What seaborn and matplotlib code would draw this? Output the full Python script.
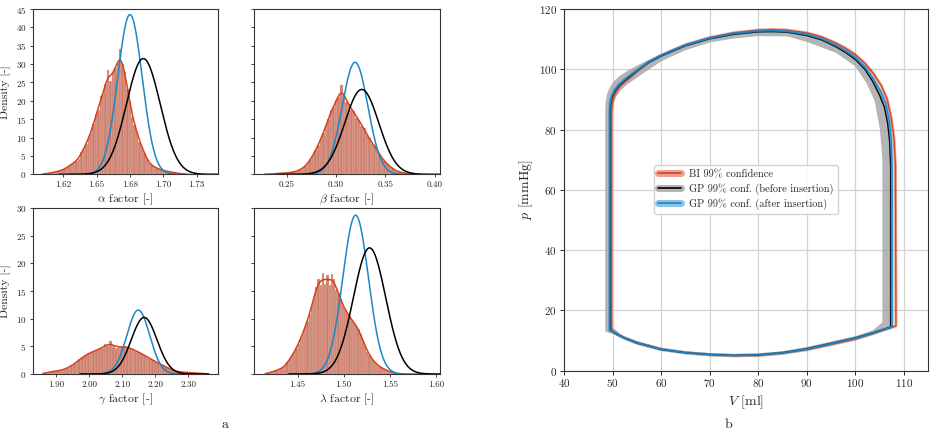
import numpy as np
import matplotlib
matplotlib.use("Agg")
import matplotlib.pyplot as plt
from matplotlib.lines import Line2D
import seaborn as sns

# ---------------- panel a: posterior histograms (density per bin) ----------------
alpha_range = (1.6088, 1.7175)
alpha_hist = [0.05, 0.15, 0.25, 0.35, 0.45, 0.6, 0.8, 0.95, 1.1, 1.4,
              1.9, 2.3, 2.8, 3.2, 3.7, 4.3, 6.0, 7.0, 8.3, 10.2,
              11.2, 13.8, 16.5, 17.6, 21.2, 22.0, 24.6, 28.5, 25.4, 27.8,
              29.0, 30.2, 34.2, 30.0, 27.8, 23.2, 19.8, 15.6, 13.4, 11.5,
              8.8, 7.5, 5.8, 4.2, 3.0, 2.5, 1.95, 1.7, 1.45, 1.2,
              1.0, 0.85, 0.75, 0.6, 0.5, 0.35, 0.25, 0.2, 0.1, 0.05]

beta_range = (0.2263, 0.3818)
beta_hist = [0.02, 0.05, 0.08, 0.12, 0.15, 0.2, 0.22, 0.28, 0.33, 0.4,
             0.5, 0.6, 0.75, 0.9, 1.3, 1.7, 2.2, 3.1, 4.1, 5.3,
             6.6, 8.0, 9.7, 11.3, 13.3, 15.0, 17.6, 18.2, 20.3, 21.0,
             24.3, 22.0, 19.6, 19.2, 17.4, 17.2, 15.3, 14.9, 13.2, 12.5,
             10.6, 9.9, 8.3, 7.9, 6.4, 5.6, 4.1, 3.6, 2.7, 2.2,
             1.6, 1.1, 0.75, 0.6, 0.45, 0.3, 0.2, 0.12, 0.06, 0.02]

gamma_range = (1.8567, 2.3667)
gamma_hist = [0.1, 0.2, 0.35, 0.45, 0.5, 0.55, 0.6, 0.75, 0.95, 1.15,
              1.45, 1.8, 2.2, 2.65, 3.0, 3.4, 3.7, 3.9, 4.1, 4.3,
              4.5, 4.65, 5.4, 5.05, 6.0, 5.1, 4.7, 4.9, 4.8, 5.1,
              4.9, 4.6, 4.5, 4.2, 4.0, 3.7, 3.35, 3.1, 2.8, 2.5,
              2.25, 2.0, 1.75, 1.5, 1.2, 0.95, 0.7, 0.55, 0.45, 0.35,
              0.3, 0.28, 0.26, 0.25, 0.2, 0.15, 0.1, 0.06, 0.03, 0.01]

lambda_range = (1.4140, 1.5579)
lambda_hist = [0.05, 0.15, 0.25, 0.35, 0.5, 0.65, 0.8, 0.95, 1.1, 1.5,
               2.1, 2.7, 3.3, 3.9, 4.7, 5.5, 6.5, 7.5, 8.5, 9.6,
               10.9, 12.4, 14.0, 15.8, 17.2, 16.0, 18.3, 16.2, 17.9, 16.0,
               18.0, 17.2, 15.2, 14.7, 13.5, 12.3, 11.6, 11.0, 10.4, 9.8,
               9.3, 8.8, 8.1, 7.2, 6.2, 5.1, 4.0, 3.4, 2.8, 2.2,
               1.85, 1.5, 1.2, 1.0, 0.8, 0.6, 0.45, 0.3, 0.2, 0.1]

# GP surrogate posteriors: (mean, std) before / after insertion
gp_before = {"alpha": (1.6850, 0.01266), "beta": (0.3261, 0.01727),
             "gamma": (2.1667, 0.0390), "lambda": (1.5280, 0.0175)}
gp_after = {"alpha": (1.6750, 0.00917), "beta": (0.3193, 0.01308),
            "gamma": (2.1490, 0.0345), "lambda": (1.5129, 0.0139)}

alpha_ticks = [1.625, 1.650, 1.675, 1.700, 1.725]
alpha_labels = ["1.62", "1.65", "1.68", "1.70", "1.73"]
beta_ticks = [0.25, 0.30, 0.35, 0.40]
gamma_ticks = [1.90, 2.00, 2.10, 2.20, 2.30]
lambda_ticks = [1.45, 1.50, 1.55, 1.60]

# ---------------- panel b: pressure-volume loops ----------------
bi_V = [49.8, 49.8, 49.9, 50.2, 50.8, 51.6, 52.6, 53.8, 55.2, 57.5, 60, 65, 70, 75, 80, 83,
        86, 90, 93, 96, 98, 100, 102, 103.8, 105.4, 106.6, 107.4, 108.0, 108.3, 108.4,
        105, 103.6, 100, 95, 90, 85, 80, 75, 70, 65, 60, 55, 52.5, 51, 50.2, 49.8]
bi_p = [13.2, 86.0, 88.5, 90.8, 92.8, 94.5, 96.0, 97.6, 99.6, 102.4, 104.6, 108.1, 110.5,
        112.1, 113.0, 113.2, 113.0, 112.1, 110.8, 108.7, 107.0, 104.9, 102, 98.5, 94.5, 90,
        84, 77, 68, 14.8, 13.0, 12.2, 10.4, 8.6, 6.9, 5.7, 5.0, 4.9, 5.2, 5.9, 7.0, 9.1,
        10.7, 11.9, 12.8, 13.2]

before_V = [49.5, 49.5, 49.6, 49.9, 50.5, 51.3, 52.3, 53.5, 55.0, 57.5, 60, 65, 70, 75, 80,
            83, 86, 90, 93, 96, 98, 100, 102, 103.6, 105, 106, 106.7, 107.1, 107.3, 107.3,
            105, 103.6, 100, 95, 90, 85, 80, 75, 70, 65, 60, 55, 52.5, 51, 50, 49.5]
before_p = [13.5, 86.0, 88.5, 90.8, 92.8, 94.5, 96.0, 97.5, 99.4, 102.3, 104.4, 107.8, 110.1,
            111.6, 112.4, 112.5, 112.3, 111.2, 109.8, 107.5, 105.6, 103.3, 100, 96, 91.5,
            87.5, 82, 76, 68, 14.4, 13.2, 12.5, 10.8, 9.0, 7.2, 5.9, 5.2, 5.0, 5.3, 5.9,
            7.0, 9.2, 10.8, 12.0, 13.0, 13.5]

after_V = [49.4, 49.4, 49.5, 49.8, 50.4, 51.2, 52.2, 53.4, 55.0, 57.5, 60, 65, 70, 75, 80,
           83, 86, 90, 93, 96, 98, 100, 102, 103.7, 105.2, 106.3, 107.0, 107.4, 107.6, 107.6,
           105, 103.6, 100, 95, 90, 85, 80, 75, 70, 65, 60, 55, 52.5, 51, 50, 49.4]
after_p = [13.4, 86.0, 88.6, 90.9, 93.0, 94.7, 96.2, 97.7, 99.6, 102.5, 104.6, 108.0, 110.3,
           111.9, 112.7, 112.8, 112.6, 111.6, 110.2, 108.0, 106.2, 104.0, 100.8, 97.0, 92.8,
           88.6, 83, 77, 68, 14.5, 13.1, 12.4, 10.7, 8.9, 7.1, 5.85, 5.15, 5.0, 5.3, 5.9,
           7.0, 9.2, 10.8, 12.0, 13.0, 13.4]

# GP (before insertion) 99% band: outer and inner edge of the loop
band_out_V = [48.5, 48.5, 48.6, 48.9, 49.5, 50.4, 51.6, 53.0, 55.0, 60, 65, 70, 75, 80, 86,
              90, 96, 100, 103.6, 105.3, 106.5, 107.1, 107.3, 107.3, 105, 100, 95, 90, 85,
              80, 75, 70, 65, 60, 55, 52, 50.3, 49, 48.5]
band_out_p = [13.0, 86.5, 89.5, 92.0, 94.2, 96.2, 97.9, 99.4, 101.2, 105.0, 108.3, 110.7,
              112.1, 112.9, 113.0, 111.6, 108.3, 104.3, 97.0, 92, 87, 80, 72, 14.5, 13.1,
              10.6, 8.8, 7.0, 5.7, 5.0, 4.8, 5.1, 5.7, 6.8, 9.0, 10.8, 12.0, 12.6, 13.0]
band_in_V = [49.9, 49.9, 50.2, 50.8, 51.7, 52.9, 55.0, 60, 65, 70, 75, 80, 86, 90, 96, 100,
             102.3, 104.0, 105.1, 105.5, 105.6, 105.6, 103.6, 100, 95, 90, 85, 80, 75, 70,
             65, 60, 55, 52, 51, 49.9]
band_in_p = [14.5, 85.5, 88.6, 91.0, 93.0, 94.8, 97.2, 102.6, 106.3, 108.9, 110.2, 111.0,
             110.9, 109.1, 105.5, 101.0, 95.5, 89.5, 80, 72, 70, 16, 13.3, 11.4, 9.6, 7.8,
             6.4, 5.7, 5.5, 5.8, 6.4, 7.6, 9.8, 11.6, 13.0, 14.5]

legend_labels = ["BI 99% confidence", "GP 99% conf. (before insertion)",
                 "GP 99% conf. (after insertion)"]

RED = "#d8401c"
BAR = "#cc7e6b"
BAR_EDGE = "#f1d9d2"
BLUE = "#1b87c9"
BLACK = "#000000"
GREY = "#a3a3a3"


def gaussian_curve(mean, std):
    x = np.linspace(mean - 5 * std, mean + 5 * std, 400)
    y = np.exp(-0.5 * ((x - mean) / std) ** 2) / (std * np.sqrt(2 * np.pi))
    return x, y


def plot_factor(ax, hist, rng, key):
    n = len(hist)
    width = (rng[1] - rng[0]) / n
    centers = rng[0] + width * (np.arange(n) + 0.5)
    sns.histplot(x=centers, weights=hist, bins=n, binrange=rng, stat="count", kde=True,
                 kde_kws=dict(bw_adjust=0.28, cut=0), color=BAR, alpha=1.0,
                 edgecolor=BAR_EDGE, linewidth=0.2, line_kws=dict(linewidth=1.1), ax=ax)
    ax.lines[-1].set_color(RED)
    x, y = gaussian_curve(*gp_after[key])
    sns.lineplot(x=x, y=y, color=BLUE, linewidth=1.1, ax=ax)
    x, y = gaussian_curve(*gp_before[key])
    sns.lineplot(x=x, y=y, color=BLACK, linewidth=1.1, ax=ax)


def main():
    sns.set_theme(style="ticks")
    plt.rcParams["font.family"] = ["cmr10", "DejaVu Serif"]
    plt.rcParams["mathtext.fontset"] = "cm"
    plt.rcParams["axes.formatter.use_mathtext"] = True
    plt.rcParams["axes.unicode_minus"] = False

    fig = plt.figure(figsize=(9.35, 4.36), dpi=100)
    ax_a = fig.add_axes([0.0348, 0.6002, 0.1987, 0.3791])
    ax_b = fig.add_axes([0.2717, 0.6002, 0.1989, 0.3791])
    ax_g = fig.add_axes([0.0348, 0.1422, 0.1987, 0.3807])
    ax_l = fig.add_axes([0.2717, 0.1422, 0.1989, 0.3807])
    ax_pv = fig.add_axes([0.6032, 0.1502, 0.3893, 0.8291])

    plot_factor(ax_a, alpha_hist, alpha_range, "alpha")
    plot_factor(ax_b, beta_hist, beta_range, "beta")
    plot_factor(ax_g, gamma_hist, gamma_range, "gamma")
    plot_factor(ax_l, lambda_hist, lambda_range, "lambda")

    ax_a.set_xlim(1.602, 1.7412)
    ax_a.set_xticks(alpha_ticks, alpha_labels)
    ax_b.set_xlim(0.2168, 0.4055)
    ax_b.set_xticks(beta_ticks, [f"{t:.2f}" for t in beta_ticks])
    ax_g.set_xlim(1.8282, 2.3918)
    ax_g.set_xticks(gamma_ticks, [f"{t:.2f}" for t in gamma_ticks])
    ax_l.set_xlim(1.4029, 1.6043)
    ax_l.set_xticks(lambda_ticks, [f"{t:.2f}" for t in lambda_ticks])

    names = [r"$\alpha$", r"$\beta$", r"$\gamma$", r"$\lambda$"]
    for ax, nm in zip([ax_a, ax_b, ax_g, ax_l], names):
        ax.set_xlabel(nm + " factor [-]", fontsize=8.5, labelpad=2)
        ax.set_ylabel("")
        ax.tick_params(labelsize=6.5, length=2.5, width=0.6, pad=2)
        for s in ax.spines.values():
            s.set_linewidth(0.8)
            s.set_color("#333333")

    for ax in (ax_a, ax_b):
        ax.set_ylim(0, 45)
        ax.set_yticks(np.arange(0, 46, 5))
    for ax in (ax_g, ax_l):
        ax.set_ylim(0, 30)
        ax.set_yticks(np.arange(0, 31, 5))
    for ax in (ax_b, ax_l):
        ax.tick_params(labelleft=False)
    ax_a.set_ylabel("Density [-]", fontsize=8.5, labelpad=3)
    ax_g.set_ylabel("Density [-]", fontsize=8.5, labelpad=3)

    # ---- panel b ----
    ax = ax_pv
    ax.grid(True, color="#d2d2d2", linewidth=0.9)
    ax.set_axisbelow(True)
    ring_V = np.r_[band_out_V, band_in_V[::-1]]
    ring_p = np.r_[band_out_p, band_in_p[::-1]]
    ax.fill(ring_V, ring_p, color=GREY, alpha=0.8, linewidth=0, zorder=2)
    sns.lineplot(x=bi_V, y=bi_p, sort=False, estimator=None, color=RED,
                 linewidth=2.2, alpha=0.45, ax=ax, zorder=3)
    sns.lineplot(x=bi_V, y=bi_p, sort=False, estimator=None, color=RED,
                 linewidth=0.9, ax=ax, zorder=3)
    sns.lineplot(x=before_V, y=before_p, sort=False, estimator=None, color=BLACK,
                 linewidth=1.0, ax=ax, zorder=4)
    sns.lineplot(x=after_V, y=after_p, sort=False, estimator=None, color=BLUE,
                 linewidth=2.2, alpha=0.45, ax=ax, zorder=5)
    sns.lineplot(x=after_V, y=after_p, sort=False, estimator=None, color=BLUE,
                 linewidth=1.0, ax=ax, zorder=5)

    ax.set_xlim(40, 115)
    ax.set_ylim(0, 120)
    ax.set_xticks(np.arange(40, 111, 10))
    ax.set_yticks(np.arange(0, 121, 20))
    ax.tick_params(labelsize=8, length=3, width=0.7, pad=2)
    for s in ax.spines.values():
        s.set_linewidth(0.8)
        s.set_color("#333333")
    ax.set_xlabel(r"$V$ [ml]", fontsize=10, labelpad=3)
    ax.set_ylabel(r"$p$ [mmHg]", fontsize=10, labelpad=3)

    handles = [
        (Line2D([], [], color=RED, linewidth=5, alpha=0.5), Line2D([], [], color=RED, linewidth=1.2)),
        (Line2D([], [], color=GREY, linewidth=5, alpha=0.8), Line2D([], [], color=BLACK, linewidth=1.2)),
        (Line2D([], [], color=BLUE, linewidth=5, alpha=0.5), Line2D([], [], color=BLUE, linewidth=1.2)),
    ]
    ax.legend(handles, legend_labels, loc="center", fontsize=7.5, frameon=True,
              framealpha=0.85, edgecolor="#cccccc", handlelength=2.2, borderpad=0.4,
              labelspacing=0.35)

    fig.text(0.2406, 1 - 425 / 436, "a", fontsize=10, ha="center", va="center")
    fig.text(0.7790, 1 - 425 / 436, "b", fontsize=10, ha="center", va="center")

    fig.savefig("out.png", dpi=100)


if __name__ == "__main__":
    main()
